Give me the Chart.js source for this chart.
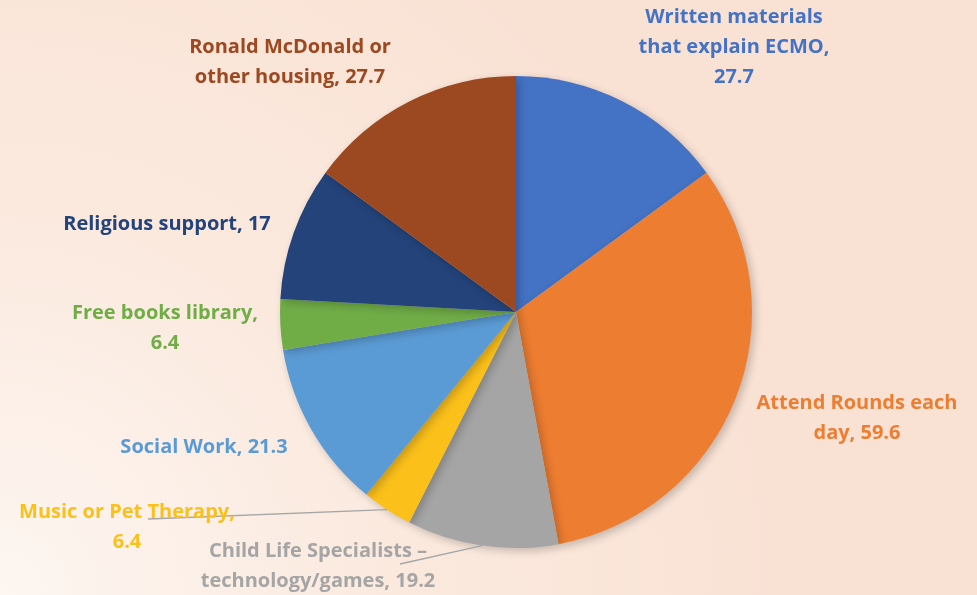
<!DOCTYPE html>
<html>
<head>
<meta charset="utf-8">
<script src="https://cdn.jsdelivr.net/npm/chart.js@4.4.1/dist/chart.umd.min.js"></script>
<style>
  html, body { margin: 0; padding: 0; }
  body {
    width: 977px; height: 595px; overflow: hidden;
    background: radial-gradient(circle at 0% 100%, #fdf6f1 0%, #fbe9de 35%, #f9e2d4 70%, #f9e2d4 100%);
  }
  #wrap { position: relative; width: 977px; height: 595px; }
</style>
</head>
<body>
<div id="wrap"><canvas id="grafica" width="977" height="595"></canvas></div>
<script>
// datos
const categorias = [
  ["Written materials", "that explain ECMO,", "27.7"],
  ["Attend Rounds each", "day, 59.6"],
  ["Child Life Specialists \u2013", "technology/games, 19.2"],
  ["Music or Pet Therapy,", "6.4"],
  ["Social Work, 21.3"],
  ["Free books library,", "6.4"],
  ["Religious support, 17"],
  ["Ronald McDonald or", "other housing, 27.7"]
];
const valores = [27.7, 59.6, 19.2, 6.4, 21.3, 6.4, 17, 27.7];
const colores = ["#4472C4", "#ED7D31", "#A5A5A5", "#FBC01A", "#5B9BD5", "#70AD47", "#23437A", "#9C4820"];
const coloresTexto = ["#4472C4", "#ED7D31", "#A5A5A5", "#FBC01A", "#5B9BD5", "#70AD47", "#23437A", "#9C4820"];

// posiciones de las etiquetas (centro del bloque de texto)
const posEtiquetas = [
  [734, 47], [857, 418], [318, 566], [127, 527],
  [204, 447], [165, 328], [167, 224], [290, 62]
];
// lineas guia: [indice, x final, y final]
const lineasGuia = [[3, 148, 519], [2, 400, 564]];

const sombraPlugin = {
  id: "sombra",
  beforeDatasetsDraw(chart) {
    const ctx = chart.ctx;
    ctx.save();
    ctx.shadowColor = "rgba(0,0,0,0.22)";
    ctx.shadowBlur = 9;
    ctx.shadowOffsetX = 3;
    ctx.shadowOffsetY = 3;
  },
  afterDatasetsDraw(chart) {
    chart.ctx.restore();
  }
};

const etiquetasPlugin = {
  id: "etiquetas",
  afterDraw(chart) {
    const ctx = chart.ctx;
    const arcs = chart.getDatasetMeta(0).data;
    ctx.save();
    // lineas guia
    ctx.strokeStyle = "#A6A6A6";
    ctx.lineWidth = 1.3;
    lineasGuia.forEach(([i, x2, y2]) => {
      const a = arcs[i];
      const mid = (a.startAngle + a.endAngle) / 2;
      const x1 = a.x + Math.cos(mid) * a.outerRadius;
      const y1 = a.y + Math.sin(mid) * a.outerRadius;
      ctx.beginPath();
      ctx.moveTo(x1, y1);
      ctx.lineTo(x2, y2);
      ctx.stroke();
    });
    // textos
    ctx.font = "bold 20px 'Open Sans', sans-serif";
    ctx.textAlign = "center";
    ctx.textBaseline = "middle";
    const alto = 30;
    categorias.forEach((lineas, i) => {
      const [cx, cy] = posEtiquetas[i];
      ctx.fillStyle = coloresTexto[i];
      const y0 = cy - (lineas.length - 1) * alto / 2;
      lineas.forEach((t, k) => ctx.fillText(t, cx, y0 + k * alto));
    });
    ctx.restore();
  }
};

const ctx = document.getElementById("grafica").getContext("2d");
new Chart(ctx, {
  type: "pie",
  data: {
    labels: categorias.map(l => l.join(" ")),
    datasets: [{
      data: valores,
      backgroundColor: colores,
      borderWidth: 0
    }]
  },
  options: {
    responsive: false,
    animation: false,
    layout: { padding: { top: 76, bottom: 47, left: 280, right: 225 } },
    plugins: {
      legend: { display: false },
      tooltip: { enabled: false }
    }
  },
  plugins: [sombraPlugin, etiquetasPlugin]
});
</script>
</body>
</html>
